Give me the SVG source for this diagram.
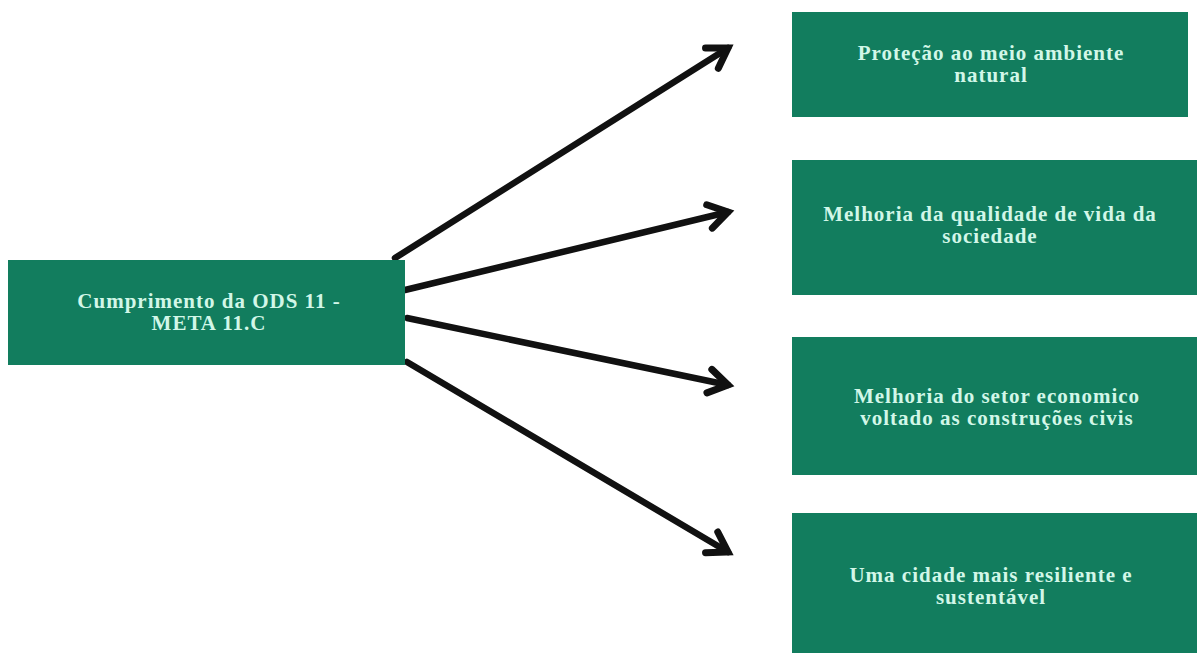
<svg xmlns="http://www.w3.org/2000/svg" width="1203" height="653" viewBox="0 0 1203 653">
<style>
.box{fill:#127d5e}
.t{font-family:"Liberation Serif","Times New Roman",serif;font-weight:bold;font-size:21px;letter-spacing:1px;fill:#d2f7e8;text-anchor:middle}
.c{stroke:#111;stroke-width:6.5;fill:none;stroke-linecap:round}
</style>
<defs>
<marker id="ah" markerUnits="userSpaceOnUse" markerWidth="40" markerHeight="40" refX="0" refY="0" viewBox="-30 -20 40 40" orient="auto">
<path d="M-19,-12 L0,0 L-19,12" fill="none" stroke="#111" stroke-width="7" stroke-linecap="round" stroke-linejoin="miter"/>
</marker>
</defs>
<rect width="1203" height="653" fill="#fff"/>
<g id="connectors">
<line class="c" x1="395" y1="258" x2="728" y2="48" marker-end="url(#ah)"/>
<line class="c" x1="405" y1="290" x2="728" y2="212" marker-end="url(#ah)"/>
<line class="c" x1="407" y1="318" x2="728" y2="385" marker-end="url(#ah)"/>
<line class="c" x1="407" y1="362" x2="728" y2="552" marker-end="url(#ah)"/>
</g>
<g id="n0">
<rect class="box" x="8" y="260" width="397" height="105"/>
<text class="t" x="209" y="308">Cumprimento da ODS 11 -</text>
<text class="t" x="209" y="330">META 11.C</text>
</g>
<g id="n1">
<rect class="box" x="792" y="12" width="396" height="105"/>
<text class="t" x="991" y="60">Proteção ao meio ambiente</text>
<text class="t" x="991" y="82">natural</text>
</g>
<g id="n2">
<rect class="box" x="792" y="160" width="405" height="135"/>
<text class="t" x="990" y="221">Melhoria da qualidade de vida da</text>
<text class="t" x="990" y="243">sociedade</text>
</g>
<g id="n3">
<rect class="box" x="792" y="337" width="405" height="138"/>
<text class="t" x="997" y="403">Melhoria do setor economico</text>
<text class="t" x="997" y="425">voltado as construções civis</text>
</g>
<g id="n4">
<rect class="box" x="792" y="513" width="405" height="140"/>
<text class="t" x="991" y="582">Uma cidade mais resiliente e</text>
<text class="t" x="991" y="604">sustentável</text>
</g>
</svg>
